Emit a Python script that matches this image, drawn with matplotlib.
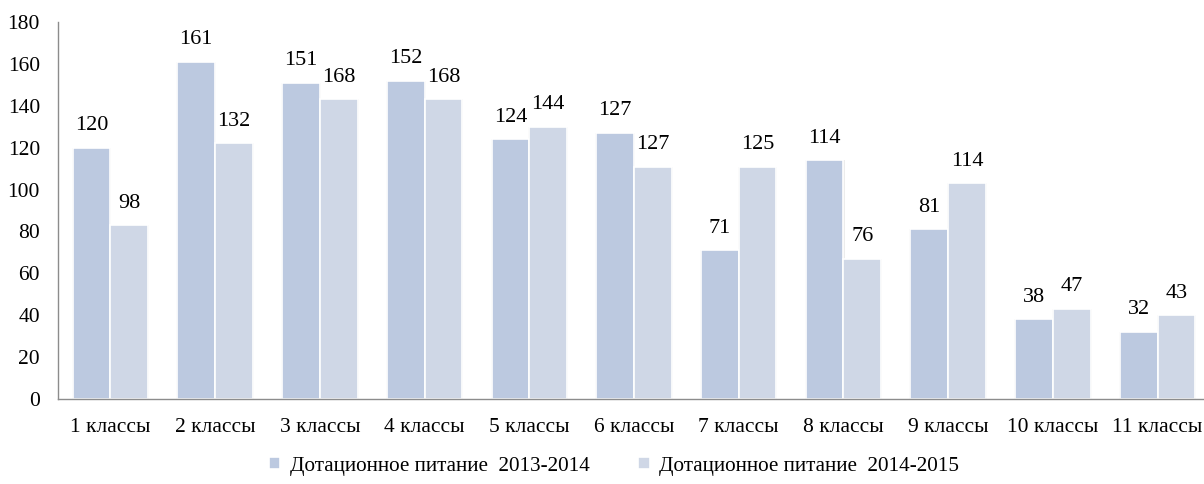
import numpy as np
import matplotlib
matplotlib.use("Agg")
import matplotlib.pyplot as plt

# ================= данные =================
categories = ["1 классы", "2 классы", "3 классы", "4 классы", "5 классы", "6 классы",
              "7 классы", "8 классы", "9 классы", "10 классы", "11 классы"]

series_names = ["Дотационное питание  2013-2014", "Дотационное питание  2014-2015"]

# высоты столбцов, как они нарисованы
heights_2013 = [120, 161, 151, 152, 124, 127, 71, 114, 81, 38, 32]
heights_2014 = [83, 122, 143, 143, 130, 111, 111, 67, 103, 43, 40]

# подписи над столбцами (во втором ряду не совпадают с высотой)
labels_2013 = [120, 161, 151, 152, 124, 127, 71, 114, 81, 38, 32]
labels_2014 = [98, 132, 168, 168, 144, 127, 125, 76, 114, 47, 43]

yticks = list(range(0, 181, 20))

COLOR_1 = "#bcc9e0"
COLOR_2 = "#cfd7e6"

plt.rcParams["font.family"] = ["Liberation Serif", "DejaVu Serif"]

fig = plt.figure(figsize=(12.04, 4.84), dpi=100)
ax = fig.add_axes([58 / 1204, 85 / 484, (1210 - 58) / 1204, 377 / 484])

x = np.arange(len(categories))
w = 0.36
off = 0.18

for hts, col, lab, dx in [(heights_2013, COLOR_1, series_names[0], -off),
                          (heights_2014, COLOR_2, series_names[1], off)]:
    # лёгкая тень вокруг столбцов
    ax.bar(x + dx, hts, width=w + 0.02, color="#ececec", linewidth=0, zorder=1)
    ax.bar(x + dx, hts, width=w, color=col, edgecolor="white", linewidth=1.2,
           label=lab, zorder=2)

for xi, h, t in zip(x, heights_2013, labels_2013):
    ax.text(xi - off, h + 6, str(t), ha="center", va="bottom", fontsize=16)
for xi, h, t in zip(x, heights_2014, labels_2014):
    ax.text(xi + off, h + 6, str(t), ha="center", va="bottom", fontsize=16)

ax.set_xlim(-0.5, len(categories) - 0.5)
ax.set_ylim(0, 180)
ax.set_yticks(yticks)
ax.set_xticks(x)
ax.set_xticklabels(categories)
ax.tick_params(axis="both", length=0, labelsize=15.5)
ax.tick_params(axis="x", pad=14)
ax.tick_params(axis="y", pad=13)

for s in ["top", "right"]:
    ax.spines[s].set_visible(False)
for s in ["left", "bottom"]:
    ax.spines[s].set_color("#8c8c8c")
    ax.spines[s].set_linewidth(1.0)

handles, labs = ax.get_legend_handles_labels()
fig.legend(handles, labs, loc="center", bbox_to_anchor=(614 / 1204, 1 - 466 / 484),
           ncol=2, frameon=False, fontsize=15.2, handlelength=0.55, handleheight=0.55,
           handletextpad=0.45, columnspacing=2.3)

fig.savefig("out.png", dpi=100)
